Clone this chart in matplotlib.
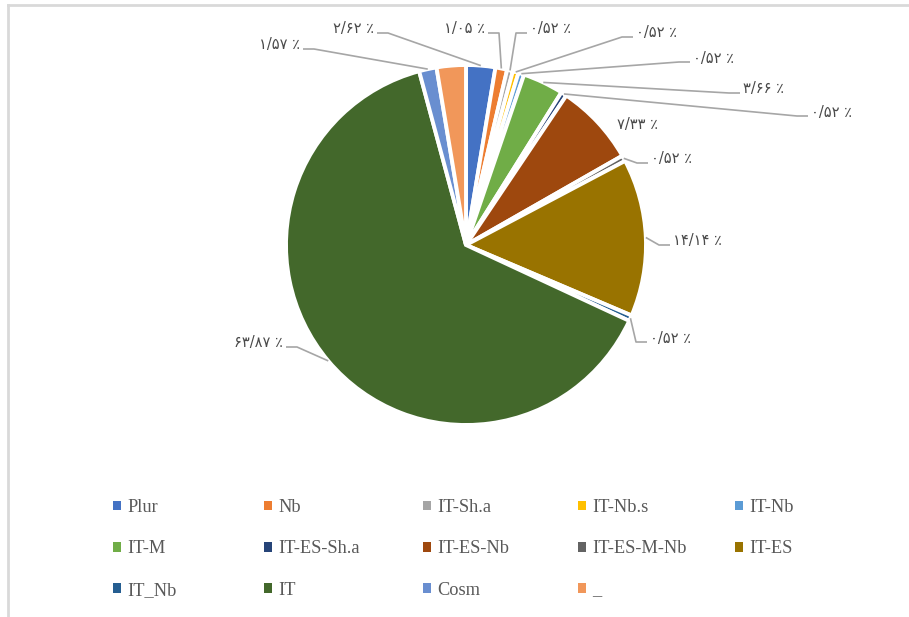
import numpy as np
import matplotlib
matplotlib.use("Agg")
import matplotlib.pyplot as plt
from matplotlib.patches import Patch
from matplotlib.lines import Line2D

categories = ["Plur", "Nb", "IT-Sh.a", "IT-Nb.s", "IT-Nb", "IT-M", "IT-ES-Sh.a",
              "IT-ES-Nb", "IT-ES-M-Nb", "IT-ES", "IT_Nb", "IT", "Cosm", "_"]
values = [2.62, 1.05, 0.52, 0.52, 0.52, 3.66, 0.52, 7.33, 0.52, 14.14, 0.52, 63.87, 1.57, 2.62]
colors = ["#4472C4", "#ED7D31", "#A5A5A5", "#FFC000", "#5B9BD5", "#70AD47", "#264478",
          "#9E480E", "#636363", "#997300", "#255E91", "#43682B", "#698ED0", "#F1975A"]

W, H = 909, 617


def P(x, y):
    # pixel position (from top-left) to data coords
    return (x, H - y)


def fa(v):
    s = f"{v:.2f}".replace(".", "/")
    s = s.translate(str.maketrans("0123456789", "۰۱۲۳۴۵۶۷۸۹"))
    return s + " ٪"


# label layout: line start (px), side of the text
label_layout = {
    "Cosm": (303, 49, "left"),
    "Plur": (377, 33, "left"),
    "Nb": (488, 33, "left"),
    "IT-Sh.a": (527, 33, "right"),
    "IT-Nb.s": (633, 37, "right"),
    "IT-Nb": (690, 62, "right"),
    "IT-M": (740, 93, "right"),
    "IT-ES-Sh.a": (808, 116, "right"),
    "IT-ES-Nb": (637, 126, None),
    "IT-ES-M-Nb": (648, 163, "right"),
    "IT-ES": (670, 245, "right"),
    "IT_Nb": (647, 342, "right"),
    "IT": (286, 347, "left"),
}

fig = plt.figure(figsize=(W / 100, H / 100), dpi=100)
ax = fig.add_axes([0, 0, 1, 1])

cx, cy = P(466, 245)
R = 180
wedges, _ = ax.pie(values, colors=colors, startangle=90, counterclock=False,
                   center=(cx, cy), radius=R,
                   wedgeprops=dict(edgecolor="white", linewidth=2.8))

lab_font = dict(fontsize=10.5, color="#4a4a4a", family=["DejaVu Sans"], va="center")
for w, cat, v in zip(wedges, categories, values):
    if cat not in label_layout:
        continue
    lx, ly, side = label_layout[cat]
    if side is None:
        ax.text(*P(lx, ly - 2), fa(v), ha="center", **lab_font)
        continue
    mid = np.deg2rad((w.theta1 + w.theta2) / 2)
    ex, ey = cx + R * np.cos(mid), cy + R * np.sin(mid)
    sx, sy = P(lx, ly)
    if side == "left":
        kx = sx + 11
        ax.text(sx - 3, sy + 4, fa(v), ha="right", **lab_font)
    else:
        kx = sx - 11
        ax.text(sx + 3, sy + 4, fa(v), ha="left", **lab_font)
    ax.plot([sx, kx, ex], [sy, sy, ey], color="#A6A6A6", lw=1.2,
            solid_capstyle="butt")

ax.set_xlim(0, W)
ax.set_ylim(0, H)
ax.set_aspect("equal")
ax.axis("off")

# legend, row-major order in 5 columns
col_x = [113, 264, 423, 578, 735]
for c in range(5):
    idx = [r * 5 + c for r in range(3) if r * 5 + c < len(categories)]
    hs = [Patch(facecolor=colors[i], edgecolor="none") for i in idx]
    ls = [categories[i] for i in idx]
    leg = fig.legend(hs, ls, loc="upper left",
                     bbox_to_anchor=(col_x[c] / W, 1 - 499 / H),
                     frameon=False, ncol=1, handlelength=0.42, handleheight=0.42,
                     handletextpad=0.35, labelspacing=1.33, borderpad=0,
                     borderaxespad=0,
                     prop=dict(family="Liberation Serif", size=13.2))
    for t in leg.get_texts():
        t.set_color("#595959")

# chart frame (top and left edges visible)
fig.add_artist(Line2D([8 / W, 1], [1 - 5 / H, 1 - 5 / H], color="#D9D9D9", lw=2))
fig.add_artist(Line2D([8 / W, 8 / W], [0, 1 - 5 / H], color="#D9D9D9", lw=2))

fig.savefig("out.png", dpi=100)
